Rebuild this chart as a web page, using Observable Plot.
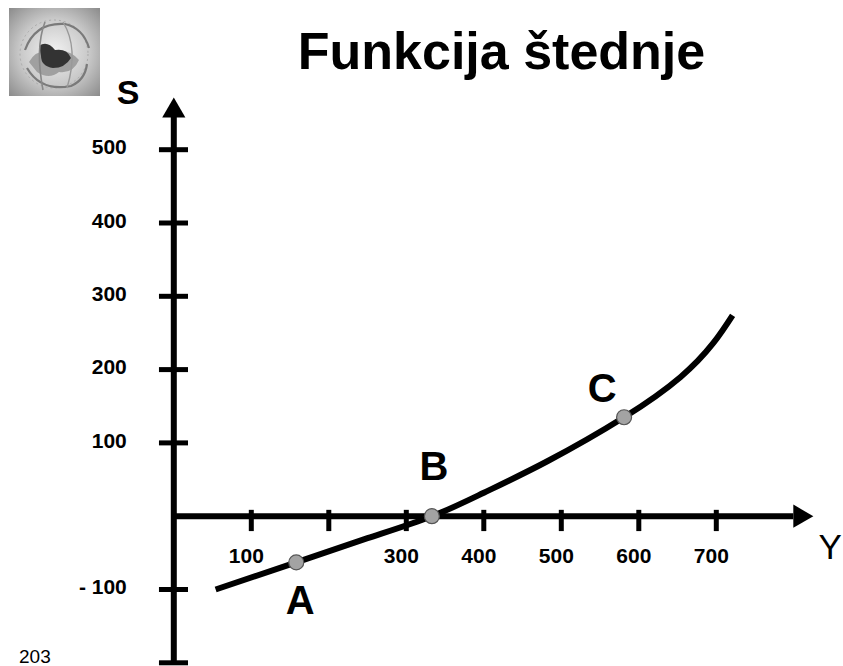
<!DOCTYPE html>
<html>
<head>
<meta charset="utf-8">
<script src="https://cdn.jsdelivr.net/npm/d3@7"></script>
<script src="https://cdn.jsdelivr.net/npm/@observablehq/plot@0.6"></script>
<style>
  html, body { margin: 0; padding: 0; background: #fff; }
  body { width: 843px; height: 666px; position: relative; overflow: hidden;
         font-family: Arial, "Liberation Sans", sans-serif; color: #000; }
  #head { height: 76px; position: relative; }
  #head h1 { position: absolute; left: 160px; width: 683px; top: 25px; margin: 0;
             text-align: center; font-size: 52px; line-height: 52px; font-weight: bold; }
  #logo { position: absolute; left: 9px; top: 8px; width: 91px; height: 88px; z-index: 2; }
  #page { position: absolute; left: 19px; top: 647px; font-size: 19px; line-height: 19px; }
  #chart svg { display: block; }
</style>
</head>
<body>
<div id="head"><h1>Funkcija štednje</h1></div>
<svg id="logo" viewBox="0 0 91 88" xmlns="http://www.w3.org/2000/svg">
  <defs>
    <radialGradient id="lg" cx="50%" cy="50%" r="70%">
      <stop offset="0%" stop-color="#f2f2f2"/>
      <stop offset="55%" stop-color="#c8c8c8"/>
      <stop offset="100%" stop-color="#8c8c8c"/>
    </radialGradient>
  </defs>
  <rect width="91" height="88" fill="url(#lg)"/>
  <circle cx="45" cy="46" r="34" fill="none" stroke="#aaa" stroke-width="1" stroke-dasharray="2 3"/>
  <path d="M20 54 Q28 40 44 44 Q60 40 70 52 Q64 66 50 64 Q40 72 28 64 Z" fill="#a0a0a0"/>
  <path d="M30 38 Q38 32 46 42 Q58 40 62 50 Q56 60 44 60 Q32 58 32 48 Z" fill="#333"/>
  <path d="M16 42 Q26 14 56 16 Q74 20 80 40" fill="none" stroke="#7a7a7a" stroke-width="2.2"/>
  <path d="M18 60 Q32 84 62 78 Q76 72 78 56" fill="none" stroke="#7a7a7a" stroke-width="2.2"/>
  <path d="M36 14 Q26 40 34 82" fill="none" stroke="#888" stroke-width="1.6"/>
  <path d="M54 14 Q70 40 58 80" fill="none" stroke="#999" stroke-width="1.4"/>
</svg>
<div id="chart"></div>
<div id="page">203</div>
<script>
// ---- data ----
const curveX = [54, 158, 250, 333, 400, 482, 581, 654, 696, 721];
const curveY = [-100, -63, -30, 0, 32, 75, 135, 190, 236, 274];

const pointLabels = ["A", "B", "C"];
const pointX = [158, 333, 581];
const pointY = [-63, 0, 135];

const xTicks = [100, 200, 300, 400, 500, 600, 700];
const xLabelValues = [100, 300, 400, 500, 600, 700];
const xLabelTexts = ["100", "300", "400", "500", "600", "700"];

const yTicks = [500, 400, 300, 200, 100, -100, -200];
const yLabelValues = [500, 400, 300, 200, 100, -100];
const yLabelTexts = ["500", "400", "300", "200", "100", "- 100"];

const xAxisLabel = "Y";
const yAxisLabel = "S";

// ---- layout constants (pixels) ----
const X0 = 173.3, PX_X = 0.775;   // px per unit
const Y0 = 439.7, PX_Y = 0.733;

const curve = curveX.map((x, i) => ({x, y: curveY[i]}));
const points = pointLabels.map((name, i) => ({name, x: pointX[i], y: pointY[i]}));
const xLabels = xLabelValues.map((v, i) => ({v, t: xLabelTexts[i]}));
const yLabels = yLabelValues.map((v, i) => ({v, t: yLabelTexts[i]}));

const font = "Arial, 'Liberation Sans', sans-serif";

function labelMark(name, dx, dy) {
  return Plot.text(points.filter(d => d.name === name), {
    x: "x", y: "y", text: "name", dx, dy,
    lineAnchor: "bottom", textAnchor: "middle",
    fontSize: 40, fontWeight: "bold", fontFamily: font, fill: "#000"
  });
}

const plot = Plot.plot({
  width: 843,
  height: 590,
  margin: 0,
  style: {fontFamily: font, background: "transparent", overflow: "visible"},
  x: {type: "linear", domain: [0, 100], range: [X0, X0 + 100 * PX_X], axis: null},
  y: {type: "linear", domain: [0, 100], range: [Y0, Y0 - 100 * PX_Y], axis: null},
  marks: [
    // axes
    Plot.ruleY([0], {x1: 0, x2: 800, strokeWidth: 6, stroke: "#000"}),
    Plot.ruleX([0], {y1: -200, y2: 545, strokeWidth: 6, stroke: "#000"}),
    Plot.dot([0], {x: 808, y: 0, symbol: "triangle", r: 8.6, rotate: 90, fill: "#000", stroke: "none"}),
    Plot.dot([0], {x: 0, y: 553, symbol: "triangle", r: 8.6, fill: "#000", stroke: "none"}),
    // ticks
    Plot.ruleY(yTicks, {x1: -18.5, x2: 19, strokeWidth: 5, stroke: "#000"}),
    Plot.ruleX(xTicks, {y1: -21, y2: 8, strokeWidth: 5, stroke: "#000"}),
    // tick labels
    Plot.text(yLabels, {x: 0, y: "v", text: "t", textAnchor: "end", dx: -47, dy: -2,
      fontSize: 21, fontWeight: "bold", fontFamily: font, fill: "#000"}),
    Plot.text(xLabels, {x: "v", y: 0, text: "t", textAnchor: "middle", lineAnchor: "bottom",
      dx: -5, dy: 47, fontSize: 21, fontWeight: "bold", fontFamily: font, fill: "#000"}),
    // axis titles
    Plot.text([yAxisLabel], {frameAnchor: "top-left", text: d => d, dx: 127.5, dy: 27,
      lineAnchor: "bottom", textAnchor: "middle", fontSize: 34, fontWeight: "bold", fontFamily: font, fill: "#000"}),
    Plot.text([xAxisLabel], {frameAnchor: "top-left", text: d => d, dx: 818, dy: 482,
      lineAnchor: "bottom", textAnchor: "start", fontSize: 35, fontFamily: font, fill: "#000"}),
    // saving function curve
    Plot.line(curve, {x: "x", y: "y", curve: "natural", strokeWidth: 6, stroke: "#000", strokeLinecap: "butt"}),
    // points
    Plot.dot(points, {x: "x", y: "y", r: 7.5, fill: "#a3a3a3", stroke: "#555", strokeWidth: 1.2}),
    labelMark("A", 4, 52),
    labelMark("B", 2, -36),
    labelMark("C", -22, -15)
  ]
});
document.getElementById("chart").appendChild(plot);
</script>
</body>
</html>
